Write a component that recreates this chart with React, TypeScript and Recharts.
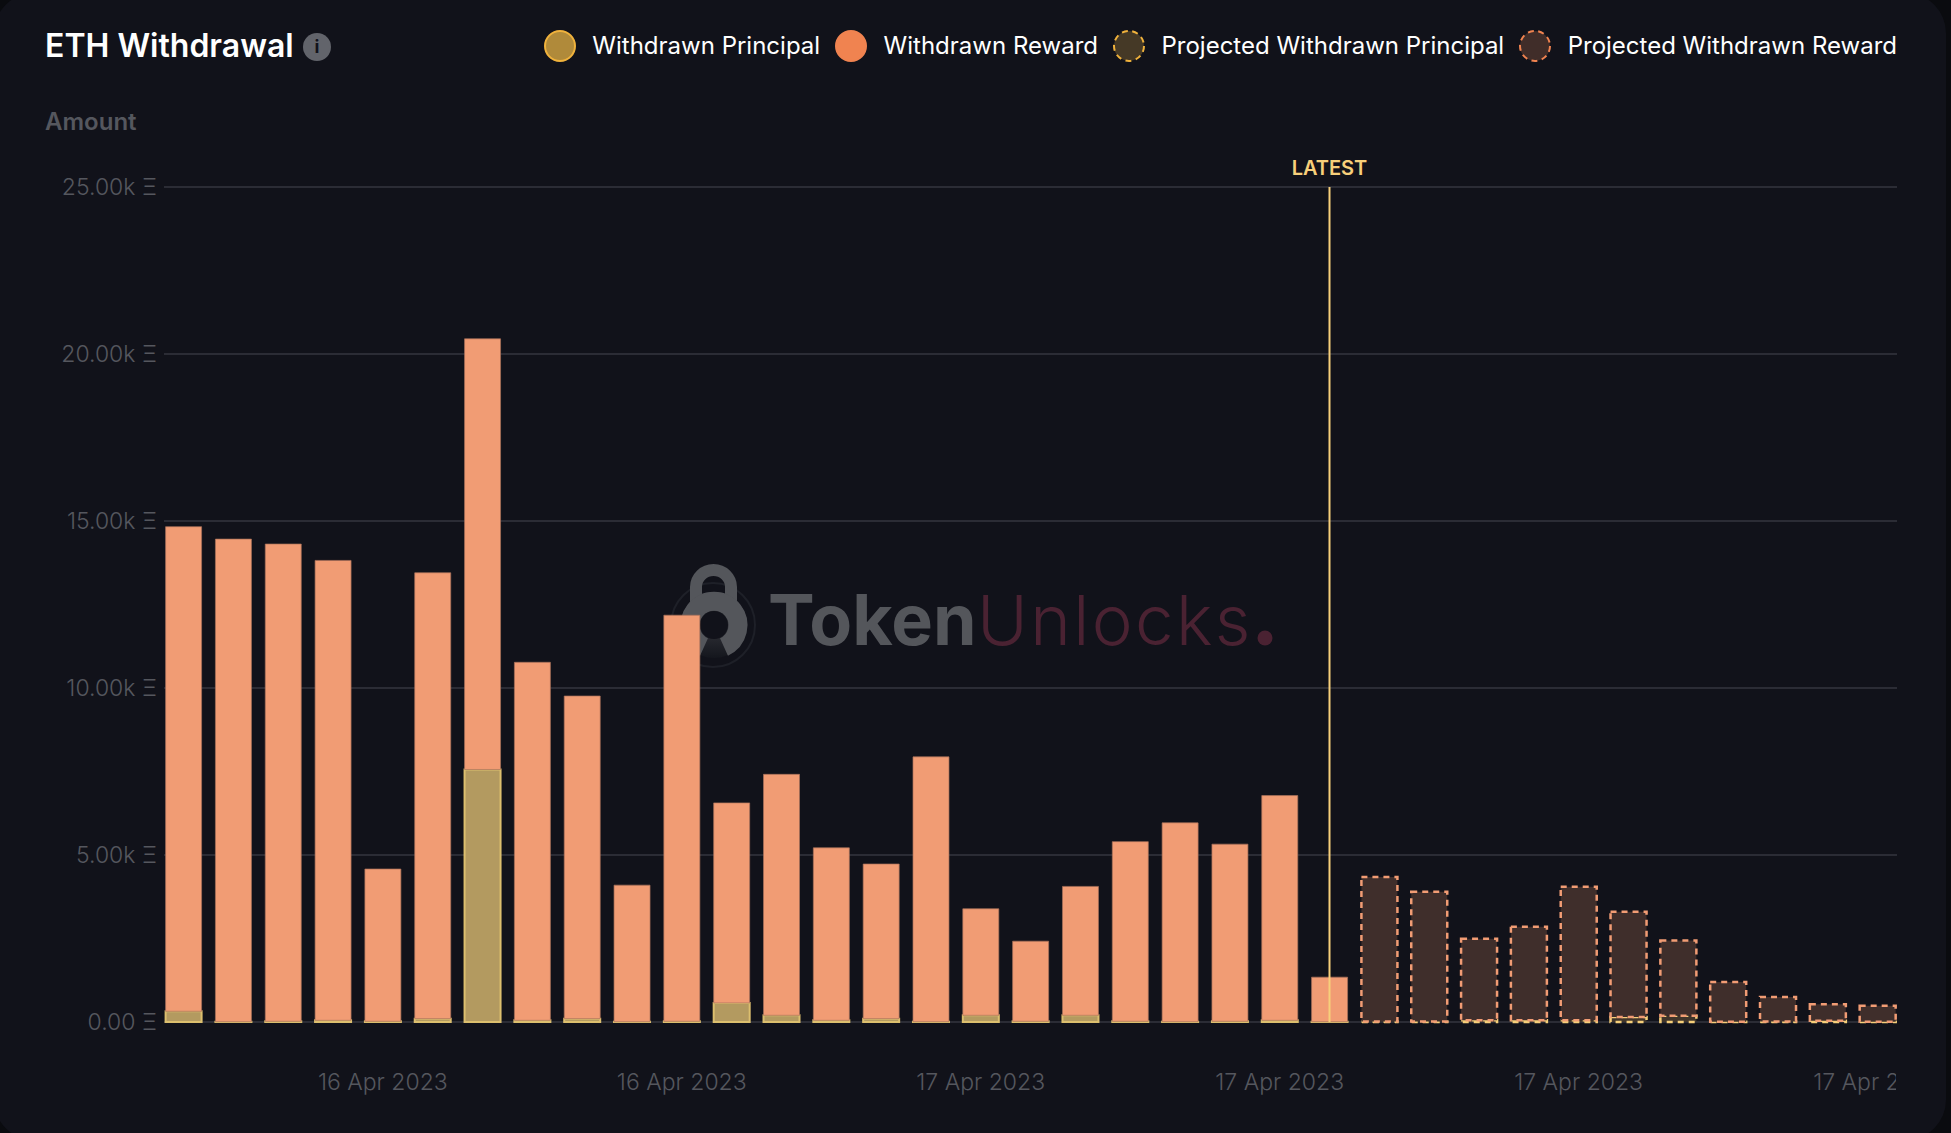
import { Bar, BarChart, CartesianGrid, ReferenceLine, XAxis, YAxis } from "recharts"

const hours = [
  "16 Apr 2023 08:00", "16 Apr 2023 09:00", "16 Apr 2023 10:00", "16 Apr 2023 11:00", "16 Apr 2023 12:00",
  "16 Apr 2023 13:00", "16 Apr 2023 14:00", "16 Apr 2023 15:00", "16 Apr 2023 16:00", "16 Apr 2023 17:00",
  "16 Apr 2023 18:00", "16 Apr 2023 19:00", "16 Apr 2023 20:00", "16 Apr 2023 21:00", "16 Apr 2023 22:00",
  "16 Apr 2023 23:00", "17 Apr 2023 00:00", "17 Apr 2023 01:00", "17 Apr 2023 02:00", "17 Apr 2023 03:00",
  "17 Apr 2023 04:00", "17 Apr 2023 05:00", "17 Apr 2023 06:00", "17 Apr 2023 07:00", "17 Apr 2023 08:00",
  "17 Apr 2023 09:00", "17 Apr 2023 10:00", "17 Apr 2023 11:00", "17 Apr 2023 12:00", "17 Apr 2023 13:00",
  "17 Apr 2023 14:00", "17 Apr 2023 15:00", "17 Apr 2023 16:00", "17 Apr 2023 17:00", "17 Apr 2023 18:00",
]

const principal = [320, 8, 20, 50, 20, 100, 7560, 50, 100, 8, 20, 570, 200, 50, 100, 8, 200, 20, 200, 20, 8, 20, 50, 8,
  null, null, null, null, null, null, null, null, null, null, null]
const reward = [14510, 14450, 14290, 13770, 4560, 13350, 12895, 10720, 9660, 4090, 12160, 5990, 7215, 5165, 4630, 7930, 3190, 2400, 3860, 5380, 5955, 5305, 6730, 1335,
  null, null, null, null, null, null, null, null, null, null, null]
const projectedPrincipal = [null, null, null, null, null, null, null, null, null, null, null, null, null, null, null, null, null, null, null, null, null, null, null, null,
  15, 15, 50, 50, 50, 150, 190, 10, 15, 40, 10]
const projectedReward = [null, null, null, null, null, null, null, null, null, null, null, null, null, null, null, null, null, null, null, null, null, null, null, null,
  4325, 3885, 2440, 2800, 4000, 3150, 2250, 1190, 735, 490, 480]

const xTicks = [hours[4], hours[10], hours[16], hours[22], hours[28], hours[34]]
const yTicks = [0, 5000, 10000, 15000, 20000, 25000]
const latest = hours[23]

const legendItems = [
  { name: "Withdrawn Principal", fill: "#b08a3a", stroke: "#f0b23c", dash: false },
  { name: "Withdrawn Reward", fill: "#f08350", stroke: "#f08350", dash: false },
  { name: "Projected Withdrawn Principal", fill: "#453926", stroke: "#f0b23c", dash: true },
  { name: "Projected Withdrawn Reward", fill: "#402d29", stroke: "#f08350", dash: true },
]

const data = hours.map((hour, i) => ({
  hour,
  principal: principal[i],
  reward: reward[i],
  projectedPrincipal: projectedPrincipal[i],
  projectedReward: projectedReward[i],
}))

const font = "Inter, sans-serif"
const muted = "#55575e"
const cardBg = "#11121a"

function formatAmount(value: number) {
  return value === 0 ? "0.00 Ξ" : `${(value / 1000).toFixed(2)}k Ξ`
}

function DateTick({ x, y, payload }: any) {
  return (
    <g clipPath="url(#x-tick-clip)">
      <text x={x} y={y} dy={60} textAnchor="middle" fill={muted} fontFamily={font} fontSize={23} fontWeight={300}>
        {payload.value.slice(0, 11)}
      </text>
    </g>
  )
}

function LegendDot({ fill, stroke, dash }: any) {
  return (
    <svg width={34} height={34} style={{ display: "block" }}>
      <circle cx={17} cy={17} r={15} fill={fill} stroke={stroke} strokeWidth={2} strokeDasharray={dash ? "6 4.5" : undefined} />
    </svg>
  )
}

function Watermark() {
  return (
    <svg width={1951} height={1133} style={{ position: "absolute", left: 0, top: 0 }}>
      <defs>
        <linearGradient id="lock-fade" x1="0" y1="0" x2="0" y2="1">
          <stop offset="0.5" stopColor="#33343a" />
          <stop offset="1" stopColor="#14161d" />
        </linearGradient>
      </defs>
      <circle cx={713} cy={625} r={42} fill="none" stroke="#1e2028" strokeWidth={2} />
      <path d="M 696 606 V 587 a 17.5 17 0 0 1 35 0 V 606" fill="none" stroke="#54565b" strokeWidth={12} />
      <circle cx={714} cy={625} r={33} fill="url(#lock-fade)" />
      <path d="M 704 647 A 24 24 0 1 1 724 647" fill="none" stroke="#54565b" strokeWidth={19} />
      <circle cx={714} cy={625} r={14} fill={cardBg} />
      <text x={768} y={645} fontFamily={font} fontSize={70} fontWeight={700} fill="#54565b">Token</text>
      <text x={977} y={645} fontFamily={font} fontSize={69} fontWeight={300} fill="#4a2232" letterSpacing={2.4}>Unlocks</text>
      <circle cx={1265} cy={638} r={7.5} fill="#4a2232" />
    </svg>
  )
}

export default function App() {
  return (
    <div style={{ position: "absolute", left: 0, top: 0, width: 1951, height: 1133, background: "#0a0b0f", overflow: "hidden", fontFamily: font }}>
      <div style={{ position: "absolute", left: -6, top: -7, width: 1952, height: 1147, borderRadius: 40, background: cardBg }} />
      <Watermark />

      <div style={{ position: "absolute", left: 45, top: 27, fontSize: 32, lineHeight: "38px", fontWeight: 600, color: "#ffffff" }}>ETH Withdrawal</div>
      <div style={{ position: "absolute", left: 303, top: 33, width: 28, height: 28, borderRadius: 14, background: "#62646b", color: cardBg, fontSize: 18, lineHeight: "28px", fontWeight: 700, textAlign: "center" }}>i</div>
      <div style={{ position: "absolute", left: 45, top: 107, fontSize: 24, lineHeight: "30px", fontWeight: 600, color: muted }}>Amount</div>

      <div style={{ position: "absolute", right: 54, top: 29, display: "flex", alignItems: "center", color: "#ffffff", fontSize: 24, lineHeight: "34px" }}>
        {legendItems.map((item) => (
          <div key={item.name} style={{ display: "flex", alignItems: "center", marginLeft: 14 }}>
            <LegendDot fill={item.fill} stroke={item.stroke} dash={item.dash} />
            <span style={{ marginLeft: 15.5 }}>{item.name}</span>
          </div>
        ))}
      </div>

      <div style={{ position: "absolute", left: 0, top: 0 }}>
        <BarChart width={1951} height={1133} data={data} margin={{ top: 187, right: 54, bottom: 51, left: 40 }} barSize={36}>
          <defs>
            <clipPath id="x-tick-clip">
              <rect x={0} y={1021} width={1896} height={112} />
            </clipPath>
          </defs>
          <CartesianGrid vertical={false} stroke="#2b2c35" strokeWidth={2} />
          <XAxis
            dataKey="hour"
            ticks={xTicks}
            interval={0}
            height={60}
            padding={{ left: -5.4, right: -5.5 }}
            axisLine={false}
            tickLine={false}
            tick={DateTick}
          />
          <YAxis
            width={124}
            domain={[0, 25000]}
            ticks={yTicks}
            interval={0}
            axisLine={false}
            tickLine={false}
            tickMargin={1}
            tickFormatter={formatAmount}
            tick={{ fill: muted, fontFamily: font, fontSize: 23, fontWeight: 300 }}
          />
          <Bar dataKey="principal" stackId="a" fill="#b39a60" stroke="#dcbf6e" strokeWidth={2} isAnimationActive={false} />
          <Bar dataKey="reward" stackId="a" fill="#f19c74" stroke="#a8705a" strokeWidth={1} strokeOpacity={0.7} isAnimationActive={false} />
          <Bar dataKey="projectedPrincipal" stackId="a" fill="#40352a" stroke="#f6cf7a" strokeWidth={2.5} strokeDasharray="6 5" isAnimationActive={false} />
          <Bar dataKey="projectedReward" stackId="a" fill="#3f2e2b" stroke="#f19c74" strokeWidth={2.5} strokeDasharray="6 5" isAnimationActive={false} />
          <ReferenceLine
            x={latest}
            stroke="#f7cf7a"
            strokeWidth={2}
            label={{ value: "LATEST", position: "top", offset: 12, fill: "#f7cf7a", fontFamily: font, fontSize: 20, fontWeight: 600 }}
          />
        </BarChart>
      </div>
    </div>
  )
}
